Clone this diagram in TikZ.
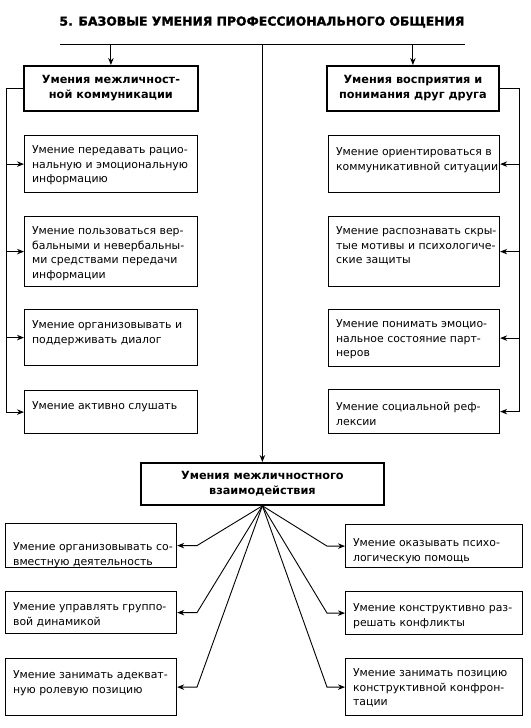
\documentclass[tikz,border=0pt]{standalone}
\usepackage{fontspec}
\usepackage{graphicx}
\setmainfont{DejaVu Sans}
\newfontfamily\heavyfont[FakeBold=1.6]{DejaVu Sans Bold}
\usetikzlibrary{arrows.meta}
% text of a plain box: width, height, first baseline, lines
\newcommand{\bt}[4]{\parbox[t][#2][t]{#1}{\rule{0pt}{#3}\begin{tabular}[t]{@{}l@{}}#4\end{tabular}}}
\tikzset{
  hdr/.style={draw, line width=1.8pt, anchor=north west, align=center, inner sep=0pt,
    font=\bfseries\fontsize{11.3}{15}\selectfont},
  sbox/.style={draw, line width=1.2pt, anchor=north west, inner xsep=7.5pt, inner ysep=0pt,
    font=\fontsize{10.9}{14.6}\selectfont},
  conn/.style={line width=0.9pt},
  arr/.style={conn, -{Stealth[length=7pt,width=5.5pt]}},
}
\begin{document}
\begin{tikzpicture}[x=1pt,y=-1pt]
\useasboundingbox (0,0) rectangle (530,728);
% title
\node (title) at (262,22) {\resizebox{405pt}{!}{\heavyfont\fontsize{14}{16}\selectfont 5. БАЗОВЫЕ УМЕНИЯ ПРОФЕССИОНАЛЬНОГО ОБЩЕНИЯ}};
\coordinate (tlL) at (60,44);
\coordinate (tlR) at (465,44);
% headers
\node[hdr, minimum width=174pt, minimum height=45pt] (tl) at (23,65) {Умения межличност-\\ной коммуникации};
\node[hdr, minimum width=172pt, minimum height=45pt] (tr) at (326,65) {Умения восприятия и\\понимания друг друга};
\node[hdr, minimum width=243pt, minimum height=42pt] (cb) at (140,462) {Умения межличностного\\взаимодействия};
% left column
\node[sbox] (l1) at (24,135) {\bt{158pt}{57pt}{18pt}{Умение передавать рацио-\\нальную и эмоциональную\\информацию}};
\node[sbox] (l2) at (24,216) {\bt{158pt}{70pt}{18pt}{Умение пользоваться вер-\\бальными и невербальны-\\ми средствами передачи\\информации}};
\node[sbox] (l3) at (24,309) {\bt{158pt}{56pt}{19pt}{Умение организовывать и\\поддерживать диалог}};
\node[sbox] (l4) at (24,390) {\bt{158pt}{43pt}{19pt}{Умение активно слушать}};
% right column
\node[sbox] (r1) at (328,135) {\bt{156pt}{57pt}{20pt}{Умение ориентироваться в\\коммуникативной ситуации}};
\node[sbox] (r2) at (328,216) {\bt{156pt}{70pt}{18pt}{Умение распознавать скры-\\тые мотивы и психологиче-\\ские защиты}};
\node[sbox] (r3) at (328,309) {\bt{156pt}{57pt}{18pt}{Умение понимать эмоцио-\\нальное состояние парт-\\неров}};
\node[sbox] (r4) at (328,389) {\bt{156pt}{44pt}{21pt}{Умение социальной реф-\\лексии}};
% bottom left
\node[sbox] (b1) at (5,523) {\bt{156pt}{44pt}{27pt}{Умение организовывать со-\\вместную деятельность}};
\node[sbox] (b2) at (5,591) {\bt{156pt}{42pt}{19pt}{Умение управлять группо-\\вой динамикой}};
\node[sbox] (b3) at (5,658) {\bt{156pt}{57pt}{20pt}{Умение занимать адекват-\\ную ролевую позицию}};
% bottom right
\node[sbox] (c1) at (345,524) {\bt{162pt}{43pt}{22pt}{Умение оказывать психо-\\логическую помощь}};
\node[sbox] (c2) at (345,591) {\bt{162pt}{43pt}{20pt}{Умение конструктивно раз-\\решать конфликты}};
\node[sbox] (c3) at (345,658) {\bt{162pt}{57pt}{18pt}{Умение занимать позицию\\конструктивной конфрон-\\тации}};
% helper coordinates
\coordinate (lv) at (6,0);
\coordinate (rv) at (519,0);
\coordinate (bendL) at (197,0);
\coordinate (bendR) at (327,0);
% top connectors
\draw[conn] (tlL) -- (tlR);
\draw[arr] (tl.north |- tlL) -- (tl.north);
\draw[arr] (tr.north |- tlL) -- (tr.north);
\draw[arr] (cb.north |- tlL) -- (cb.north);
% left branch
\draw[arr] (tl.west) -- (tl.west -| lv) |- (l4.west);
\draw[arr] (lv |- l1.west) -- (l1.west);
\draw[arr] (lv |- l2.west) -- (l2.west);
\draw[arr] (lv |- l3.west) -- (l3.west);
% right branch
\draw[arr] (tr.east) -- (tr.east -| rv) |- (r4.east);
\draw[arr] (rv |- r1.east) -- (r1.east);
\draw[arr] (rv |- r2.east) -- (r2.east);
\draw[arr] (rv |- r3.east) -- (r3.east);
% fan
\draw[arr] (cb.south) -- (b1.east -| bendL) -- (b1.east);
\draw[arr] (cb.south) -- (b2.east -| bendL) -- (b2.east);
\draw[arr] (cb.south) -- (b3.east -| bendL) -- (b3.east);
\draw[arr] (cb.south) -- (c1.west -| bendR) -- (c1.west);
\draw[arr] (cb.south) -- (c2.west -| bendR) -- (c2.west);
\draw[arr] (cb.south) -- (c3.west -| bendR) -- (c3.west);
\end{tikzpicture}
\end{document}
